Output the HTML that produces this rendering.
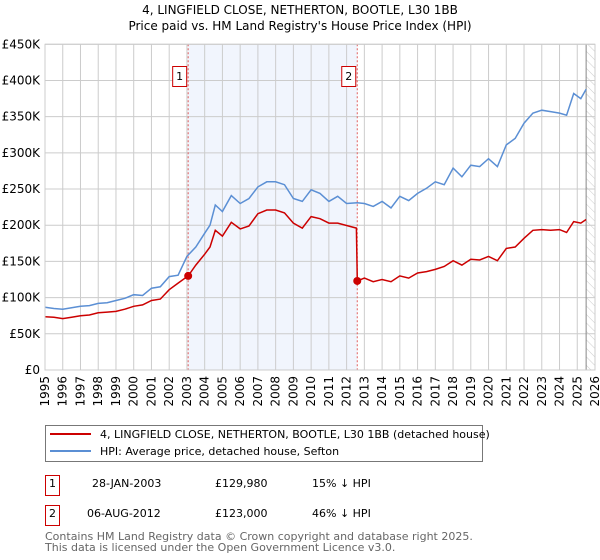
<!DOCTYPE html>
<html><head><meta charset="utf-8"><style>
body{margin:0;background:#fff;font-family:"DejaVu Sans","Liberation Sans",sans-serif;}
svg{display:block}
</style></head><body>
<svg id="chart" width="600" height="560" xmlns="http://www.w3.org/2000/svg">
<defs><pattern id="hatch" width="6" height="6" patternUnits="userSpaceOnUse" patternTransform="rotate(-45)"><line x1="0" y1="0" x2="0" y2="6" stroke="#ccc" stroke-width="1"/></pattern></defs>
<text x="300" y="14" text-anchor="middle" font-size="12">4, LINGFIELD CLOSE, NETHERTON, BOOTLE, L30 1BB</text>
<text x="300" y="30" text-anchor="middle" font-size="12">Price paid vs. HM Land Registry's House Price Index (HPI)</text>
<g id="plot"></g>
<g>
<rect x="45.5" y="425.5" width="437" height="36" fill="#fff" stroke="#777"/>
<line x1="50" y1="434" x2="91" y2="434" stroke="#cc0000" stroke-width="2"/>
<text x="100" y="438" font-size="11">4, LINGFIELD CLOSE, NETHERTON, BOOTLE, L30 1BB (detached house)</text>
<line x1="50" y1="451" x2="91" y2="451" stroke="#5b8fd4" stroke-width="2"/>
<text x="100" y="455" font-size="11">HPI: Average price, detached house, Sefton</text>
</g>
<g font-size="11">
<rect x="45.5" y="475.5" width="14" height="20" fill="none" stroke="#cc0000"/>
<text x="52.5" y="487" text-anchor="middle">1</text>
<text x="92" y="487">28-JAN-2003</text><text x="215" y="487">£129,980</text><text x="312" y="487">15% ↓ HPI</text>
<rect x="45.5" y="505.5" width="14" height="20" fill="none" stroke="#cc0000"/>
<text x="52.5" y="517" text-anchor="middle">2</text>
<text x="87" y="517">06-AUG-2012</text><text x="215" y="517">£123,000</text><text x="312" y="517">46% ↓ HPI</text>
</g>
<text x="45" y="540" font-size="11" fill="#666">Contains HM Land Registry data © Crown copyright and database right 2025.</text>
<text x="45" y="551" font-size="11" fill="#666">This data is licensed under the Open Government Licence v3.0.</text>
</svg>
<script>
const hpiYears=[1995,1995.5,1996,1996.5,1997,1997.5,1998,1998.5,1999,1999.5,2000,2000.5,2001,2001.5,2002,2002.5,2003,2003.5,2004,2004.3,2004.6,2005,2005.5,2006,2006.5,2007,2007.5,2008,2008.5,2009,2009.5,2010,2010.5,2011,2011.5,2012,2012.6,2013,2013.5,2014,2014.5,2015,2015.5,2016,2016.5,2017,2017.5,2018,2018.5,2019,2019.5,2020,2020.5,2021,2021.5,2022,2022.5,2023,2023.5,2024,2024.4,2024.8,2025.2,2025.5];
const hpiValues=[86.6,85,84,86,88,89,92,93,96,99,104,103,113,115,129,131,157,170,189,200,228,219,241,230,237,253,260,260,256,237,233,249,244,233,240,230,231,230,226,233,224,240,234,244,251,260,256,279,267,283,281,292,281,311,320,341,355,359,357,355,352,382,375,388];
const ppYears=[1995,1995.5,1996,1996.5,1997,1997.5,1998,1998.5,1999,1999.5,2000,2000.5,2001,2001.5,2002,2002.5,2003.07,2003.5,2004,2004.3,2004.6,2005,2005.5,2006,2006.5,2007,2007.5,2008,2008.5,2009,2009.5,2010,2010.5,2011,2011.5,2012.55,2012.6,2013,2013.5,2014,2014.5,2015,2015.5,2016,2016.5,2017,2017.5,2018,2018.5,2019,2019.5,2020,2020.5,2021,2021.5,2022,2022.5,2023,2023.5,2024,2024.4,2024.8,2025.2,2025.5];
const ppValues=[73.7,73,71,73,75,76,79,80,81,84,88,90,96,98,111,120,130,145,160,170,193,185,204,195,199,216,221,221,217,203,196,212,209,203,203,196,123,127,122,125,122,130,127,134,136,139,143,151,145,153,152,157,151,168,170,182,193,194,193,194,190,205,203,208];
const saleYears=[2003.07,2012.6];
const saleValues=[129.98,123];
const saleLabels=["1","2"];
const yTicks=[0,50,100,150,200,250,300,350,400,450];
const yTickLabels=["£0","£50K","£100K","£150K","£200K","£250K","£300K","£350K","£400K","£450K"];
const xTicks=[1995,1996,1997,1998,1999,2000,2001,2002,2003,2004,2005,2006,2007,2008,2009,2010,2011,2012,2013,2014,2015,2016,2017,2018,2019,2020,2021,2022,2023,2024,2025,2026];

const X0=45,X1=595,Y0=370,Y1=44.3;
const xs=y=>X0+(y-1995)/(2026-1995)*(X1-X0);
const ys=v=>Y0-v/450*(Y0-Y1);
const NS="http://www.w3.org/2000/svg";
const g=document.getElementById('plot');
function mk(t,a,p){const e=document.createElementNS(NS,t);for(const k in a)e.setAttribute(k,a[k]);(p||g).appendChild(e);return e;}
let e;
e=mk('rect',{x:xs(saleYears[0]),y:Y1,width:xs(saleYears[1])-xs(saleYears[0]),height:Y0-Y1,fill:'#eef3fd',opacity:0.8});


e=mk('rect',{x:xs(2025.5),y:Y1,width:X1-xs(2025.5),height:Y0-Y1,fill:'url(#hatch)'});


yTicks.forEach((v,i)=>{
  e=mk('line',{x1:X0,x2:X1,y1:ys(v),y2:ys(v),stroke:'#ccc','stroke-width':1});
  
  
  e=mk('text',{x:40,y:ys(v)+4,'text-anchor':'end','font-size':12});
  e.textContent=yTickLabels[i];
  
  
});
xTicks.forEach(y=>{
  e=mk('line',{x1:xs(y),x2:xs(y),y1:Y1,y2:Y0,stroke:'#ccc','stroke-width':1});
  
  
  e=mk('text',{x:0,y:0,'font-size':12,'text-anchor':'end',transform:`translate(${xs(y)+4},${Y0+6}) rotate(-90)`});
  e.textContent=y;
  
  
});
e=mk('line',{x1:xs(2025.5),x2:xs(2025.5),y1:Y1,y2:Y0,stroke:'#888','stroke-width':1});


saleYears.forEach((y,i)=>{
  e=mk('line',{x1:xs(y),x2:xs(y),y1:Y1,y2:Y0,stroke:'#e06060','stroke-width':1,'stroke-dasharray':'2,2'});
  
  
});
function path(xa,va){return xa.map((y,i)=>(i?'L':'M')+xs(y).toFixed(1)+','+ys(va[i]).toFixed(1)).join('');}
e=mk('path',{d:path(hpiYears,hpiValues),fill:'none',stroke:'#5b8fd4','stroke-width':1.5});


e=mk('path',{d:path(ppYears,ppValues),fill:'none',stroke:'#cc0000','stroke-width':1.5});


saleYears.forEach((y,i)=>{
  e=mk('circle',{cx:xs(y),cy:ys(saleValues[i]),r:4,fill:'#cc0000'});
  
  
  e=mk('rect',{x:xs(y)-15.5,y:66.5,width:14,height:20,fill:'#fff',stroke:'#cc0000'});
  
  
  e=mk('text',{x:xs(y)-8.5,y:80,'text-anchor':'middle','font-size':11});
  e.textContent=saleLabels[i];
  
  
});
e=mk('rect',{x:X0,y:Y1,width:X1-X0,height:Y0-Y1,fill:'none',stroke:'#ccc'});


</script>
</body></html>
